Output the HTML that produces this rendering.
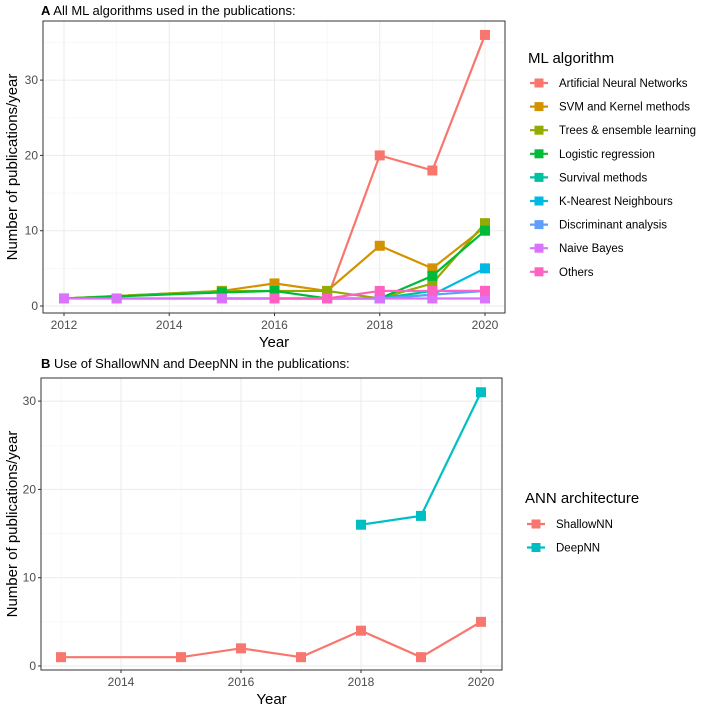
<!DOCTYPE html>
<html><head><meta charset="utf-8"><style>
body{margin:0;background:#fff;font-family:"Liberation Sans",sans-serif}
svg text{font-family:"Liberation Sans",sans-serif}
</style></head><body>
<svg id="c" width="704" height="706"></svg>
<script>
const yearsA = [2012,2013,2014,2015,2016,2017,2018,2019,2020];
const seriesNamesA = ["Artificial Neural Networks","SVM and Kernel methods","Trees & ensemble learning","Logistic regression","Survival methods","K-Nearest Neighbours","Discriminant analysis","Naive Bayes","Others"];
const colorsA = ["#F8766D","#D39200","#93AA00","#00BA38","#00C19F","#00B9E3","#619CFF","#DB72FB","#FF61C3"];
const annX = [2015,2016,2017,2018,2019,2020], annY = [1,1,1,20,18,36];
const svmX = [2012,2015,2016,2017,2018,2019,2020], svmY = [1,2,3,2,8,5,10.5];
const treeX = [2012,2015,2017,2018,2019,2020], treeY = [1,2,2,1,3,11];
const logX = [2012,2015,2016,2017,2018,2019,2020], logY = [1,1.8,2,1,1,4,10];
const survX = [2018,2019,2020], survY = [1,2,2];
const knnX = [2013,2018,2019,2020], knnY = [1,1,1.5,5];
const discX = [2018,2019,2020], discY = [1,1.5,2];
const nbX = [2012,2013,2015,2016,2017,2018,2019,2020], nbY = [1,1,1,1,1,1,1,1];
const othX = [2016,2017,2018,2019,2020], othY = [1,1,2,2,2];
const ticksXA = [2012,2014,2016,2018,2020];
const ticksY = [0,10,20,30];
const seriesNamesB = ["ShallowNN","DeepNN"];
const colorsB = ["#F8766D","#00BFC4"];
const shX = [2013,2015,2016,2017,2018,2019,2020], shY = [1,1,2,1,4,1,5];
const dpX = [2018,2019,2020], dpY = [16,17,31];
const ticksXB = [2014,2016,2018,2020];

const NS="http://www.w3.org/2000/svg", svg=document.getElementById('c');
function el(t,a,p){const e=document.createElementNS(NS,t);for(const k in a)e.setAttribute(k,a[k]);(p||svg).appendChild(e);return e;}
function txt(s,a,p){const e=el('text',a,p);e.textContent=s;return e;}

function panel(cfg){
  const g=el('g',{});
  
  
  const {L,R,T,B,x0,x1,px0,px1,y0py,ypu}=cfg;
  const sx=v=>px0+(v-x0)*(px1-px0)/(x1-x0);
  const sy=v=>y0py-v*ypu;
  const xs=cfg.xticks;
  const step=xs[1]-xs[0];
  for(let v=xs[0]-step/2; v<=xs[xs.length-1]+step/2; v+=step/2){
    const p=sx(v); if(p<=L||p>=R) continue;
    const major=xs.includes(v);
    el('line',{x1:p,x2:p,y1:T,y2:B,stroke:major?'#ebebeb':'#f4f4f4','stroke-width':major?1:0.6},g);
  }
  for(let t=0;t<=40;t+=5){
    const p=sy(t); if(p<=T) continue;
    const major=t%10===0;
    el('line',{x1:L,x2:R,y1:p,y2:p,stroke:major?'#ebebeb':'#f4f4f4','stroke-width':major?1:0.6},g);
  }
  el('rect',{x:L,y:T,width:R-L,height:B-T,fill:'none',stroke:'#333','stroke-width':1},g);
  xs.forEach(t=>{
    el('line',{x1:sx(t),x2:sx(t),y1:B,y2:B+3,stroke:'#333'},g);
    const tl=txt(String(t),{x:sx(t),y:B+16,'text-anchor':'middle','font-size':12,fill:'#4d4d4d'},g);
    
    
  });
  ticksY.forEach(t=>{
    el('line',{x1:L-3,x2:L,y1:sy(t),y2:sy(t),stroke:'#333'},g);
    const tl=txt(String(t),{x:L-5,y:sy(t)+4,'text-anchor':'end','font-size':12,fill:'#4d4d4d'},g);
    
    
  });
  const xt=txt('Year',{x:(L+R)/2,y:B+34,'text-anchor':'middle','font-size':15,fill:'#000'},g);
  
  const yt=txt('Number of publications/year',{x:0,y:0,'text-anchor':'middle','font-size':15,fill:'#000',transform:`translate(17,${(T+B)/2}) rotate(-90)`},g);
  
  cfg.series.forEach((s,i)=>{
    const sg=el('g',{},g);
    
    
    el('polyline',{points:s.x.map((v,j)=>sx(v)+','+sy(s.y[j])).join(' '),fill:'none',stroke:s.color,'stroke-width':2.2},sg);
    s.x.forEach((v,j)=>{
      const r=el('rect',{x:sx(v)-5,y:sy(s.y[j])-5,width:10,height:10,fill:s.color},sg);
      
      
    });
  });
  const lg=el('g',{},g);
  
  
  txt(cfg.legTitle,{x:cfg.lx,y:cfg.ly,'font-size':15,fill:'#000'},lg);
  cfg.series.forEach((s,i)=>{
    const y=cfg.ly0+i*cfg.lstep;
    const e=el('g',{},lg);
    
    
    el('line',{x1:cfg.lx+2,x2:cfg.lx+20,y1:y,y2:y,stroke:s.color,'stroke-width':2.2},e);
    el('rect',{x:cfg.lx+6.5,y:y-4.5,width:9,height:9,fill:s.color},e);
    txt(s.name,{x:cfg.lx+31,y:y+4,'font-size':11.5,fill:'#000'},e);
  });
  const ti=txt('',{x:cfg.tx,y:cfg.ty,'font-size':13,fill:'#000'},g);
  ti.innerHTML='<tspan font-weight="bold">'+cfg.letter+'</tspan>  '+cfg.title;
  
}
const xsA=[annX,svmX,treeX,logX,survX,knnX,discX,nbX,othX], ysA=[annY,svmY,treeY,logY,survY,knnY,discY,nbY,othY];
panel({name:'panel-a',L:43,R:505,T:21,B:313,x0:2012,x1:2020,px0:64,px1:485,y0py:306,ypu:7.53,xticks:ticksXA,
  series:seriesNamesA.map((n,i)=>({name:n,color:colorsA[i],x:xsA[i],y:ysA[i]})),
  legTitle:'ML algorithm',lx:528,ly:63,ly0:83,lstep:23.6,letter:'A',title:'All ML algorithms used in the publications:',tx:41,ty:15});
panel({name:'panel-b',L:41,R:502,T:378,B:670,x0:2014,x1:2020,px0:121,px1:481,y0py:666,ypu:8.83,xticks:ticksXB,
  series:seriesNamesB.map((n,i)=>({name:n,color:colorsB[i],x:[shX,dpX][i],y:[shY,dpY][i]})),
  legTitle:'ANN architecture',lx:525,ly:503,ly0:524,lstep:23.5,letter:'B',title:'Use of ShallowNN and DeepNN in the publications:',tx:41,ty:368});
</script>
</body></html>
